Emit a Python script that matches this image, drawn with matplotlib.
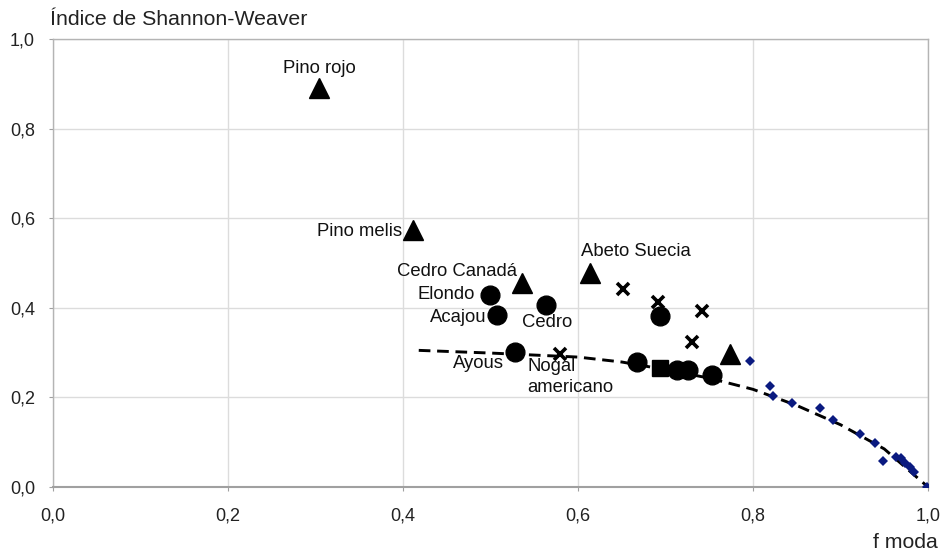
import matplotlib
matplotlib.use("Agg")
import matplotlib.pyplot as plt

plt.rcParams['font.family'] = ['Liberation Sans', 'DejaVu Sans']

# coniferas (triangulos)
tri_x = [0.304, 0.412, 0.536, 0.614, 0.774]
tri_y = [0.891, 0.574, 0.455, 0.477, 0.296]
# frondosas tropicales (circulos)
circ_x = [0.499, 0.508, 0.564, 0.528, 0.694, 0.667, 0.713, 0.726, 0.753]
circ_y = [0.429, 0.384, 0.406, 0.302, 0.382, 0.278, 0.261, 0.261, 0.250]
# frondosas templadas (aspas)
cruz_x = [0.579, 0.651, 0.692, 0.742, 0.730]
cruz_y = [0.297, 0.443, 0.412, 0.392, 0.323]
# cuadrado
cuad_x = [0.694]
cuad_y = [0.265]
# puntos de referencia (rombos azules)
romb_x = [0.797, 0.820, 0.823, 0.845, 0.877, 0.891, 0.922, 0.939, 0.949,
          0.963, 0.969, 0.974, 0.980, 0.984, 0.999]
romb_y = [0.281, 0.225, 0.203, 0.187, 0.177, 0.150, 0.118, 0.099, 0.059,
          0.068, 0.065, 0.053, 0.045, 0.034, 0.000]
# linea de tendencia
tend_x = [0.418, 0.50, 0.60, 0.65, 0.70, 0.75, 0.80, 0.85, 0.90, 0.95, 1.00]
tend_y = [0.305, 0.299, 0.290, 0.279, 0.262, 0.243, 0.218, 0.182, 0.139, 0.085, 0.0]

# etiquetas: (texto, x, y, desplazamiento en pixeles, alineacion)
etiquetas = [
    ("Pino rojo", 0.304, 0.891, (0, 19), "center"),
    ("Pino melis", 0.412, 0.574, (-11, -2), "right"),
    ("Cedro Canadá", 0.536, 0.455, (-5, 12), "right"),
    ("Elondo", 0.499, 0.429, (-15, 0), "right"),
    ("Acajou", 0.508, 0.384, (-11, -3), "right"),
    ("Cedro", 0.564, 0.406, (1, -17), "center"),
    ("Ayous", 0.528, 0.302, (-11, -12), "right"),
    ("Nogal\namericano", 0.579, 0.297, (-32, -23), "left"),
    ("Abeto Suecia", 0.614, 0.477, (-9, 22), "left"),
]

fig = plt.figure(figsize=(9.45, 5.56), dpi=100)
ax = fig.add_axes([53/945, 1-487/556, (928-53)/945, (487-39)/556])

ax.plot(tend_x, tend_y, color="black", lw=2.1, linestyle=(0, (4, 2.3)), zorder=2)
ax.plot(romb_x, romb_y, "D", color="#0a1a80", ms=5, mew=0, zorder=3)
ax.plot(cruz_x, cruz_y, "x", color="black", ms=8.5, mew=2.6, zorder=4)
ax.plot(cuad_x, cuad_y, "s", color="black", ms=12, zorder=4)
ax.plot(circ_x, circ_y, "o", color="black", ms=13.5, zorder=5)
ax.plot(tri_x, tri_y, "^", color="black", ms=14, zorder=5)

for texto, x, y, off, ha in etiquetas:
    ax.annotate(texto, (x, y), xytext=off, textcoords="offset pixels",
                ha=ha, va="center", fontsize=13.3, color="#111111",
                linespacing=1.25, zorder=6)

ax.set_xlim(0, 1)
ax.set_ylim(0, 1)
ticks = [0, 0.2, 0.4, 0.6, 0.8, 1.0]
ax.set_xticks(ticks)
ax.set_yticks(ticks)
ax.set_xticklabels(["0,0", "0,2", "0,4", "0,6", "0,8", "1,0"])
ax.set_yticklabels(["0,0", "0,2", "0,4", "0,6", "0,8", "1,0"])
ax.tick_params(length=3, color="#a0a0a0", labelsize=13, labelcolor="#222222")
ax.tick_params(axis="x", pad=12)
ax.tick_params(axis="y", pad=10)
ax.grid(True, color="#dcdcdc", lw=1)
ax.set_axisbelow(True)
for s in ax.spines.values():
    s.set_color("#b4b4b4")
    s.set_linewidth(1)
ax.spines["bottom"].set_color("#a0a0a0")
ax.spines["bottom"].set_linewidth(1.5)

fig.text(50/945, 1-25/556, "Índice de Shannon-Weaver", fontsize=15.3,
         color="#222222", va="baseline", ha="left")
fig.text(938/945, 1-548/556, "f moda", fontsize=15.3,
         color="#222222", va="baseline", ha="right")

fig.savefig("out.png", dpi=100)
